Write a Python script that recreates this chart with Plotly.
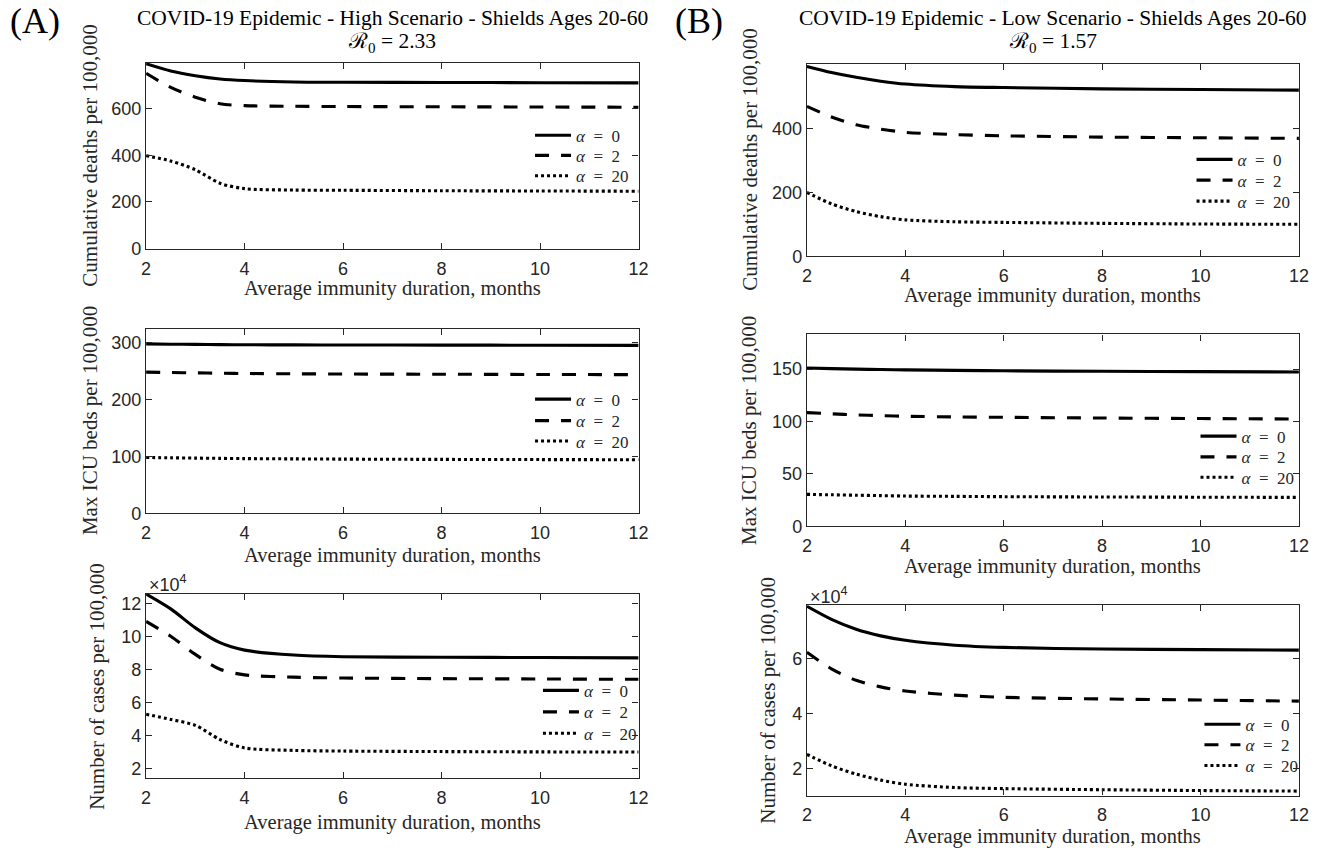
import plotly.graph_objects as go

W, H = 1337, 858

# ---------------- data ----------------
months = [2, 2.5, 3, 3.5, 4, 5, 6, 8, 10, 12]
alpha_labels = ["<i>α</i>\u2002=\u20020", "<i>α</i>\u2002=\u20022", "<i>α</i>\u2002=\u200220"]

# (A) High scenario
A_deaths_a0 = [791, 760, 740, 726, 719, 713, 712, 711, 710, 709]
A_deaths_a2 = [750, 690, 648, 620, 612, 609, 608, 607, 606, 605]
A_deaths_a20 = [398, 375, 338, 280, 257, 251, 250, 248, 247, 246]

A_icu_a0 = [297.5, 297, 296.6, 296.3, 296, 295.8, 295.6, 295.4, 295.2, 295]
A_icu_a2 = [248, 247.2, 246.6, 246, 245.5, 245, 244.6, 244.2, 243.8, 243.5]
A_icu_a20 = [98, 97.4, 96.9, 96.4, 96, 95.5, 95.1, 94.6, 94.3, 94]

A_cases_a0 = [126000, 117000, 105500, 96500, 92000, 89000, 88000, 87700, 87500, 87300]
A_cases_a2 = [109400, 100400, 89400, 80400, 77000, 75600, 75100, 74700, 74500, 74300]
A_cases_a20 = [53100, 50000, 46400, 37800, 32700, 31200, 30800, 30500, 30300, 30200]

# (B) Low scenario
B_deaths_a0 = [594, 575, 560, 548, 539, 531, 528, 524, 522, 520]
B_deaths_a2 = [469, 436, 412, 398, 388, 381, 377, 373, 371, 369]
B_deaths_a20 = [200, 164, 140, 124, 114, 108, 106, 103, 101, 100]

B_icu_a0 = [151, 150.4, 149.9, 149.5, 149.2, 148.7, 148.3, 147.8, 147.5, 147.2]
B_icu_a2 = [108.5, 107.3, 106.3, 105.6, 105, 104.4, 104, 103.3, 102.8, 102.4]
B_icu_a20 = [30.6, 30.2, 29.8, 29.4, 29, 28.7, 28.4, 28.1, 27.9, 27.7]

B_cases_a0 = [79200, 74400, 70800, 68400, 66800, 65000, 64200, 63600, 63400, 63200]
B_cases_a2 = [62400, 56400, 52200, 49800, 48300, 46800, 46000, 45400, 45000, 44600]
B_cases_a20 = [25200, 21000, 18000, 15800, 14300, 13100, 12700, 12300, 12000, 11800]

x_ticks = [2, 4, 6, 8, 10, 12]
titles = {
    "A": ["COVID-19 Epidemic - High Scenario - Shields Ages 20-60", "ℛ<sub>0</sub> = 2.33"],
    "B": ["COVID-19 Epidemic - Low Scenario - Shields Ages 20-60", "ℛ<sub>0</sub> = 1.57"],
}
ylabels = ["Cumulative deaths per 100,000", "Max ICU beds per 100,000", "Number of cases per 100,000"]
xlabel = "Average immunity duration, months"

# ---------------- layout geometry (pixels) ----------------
panels = [
    dict(series=[A_deaths_a0, A_deaths_a2, A_deaths_a20], box=(142.7, 640.8, 63.3, 251.7), yr=[0, 796],
         tv=[0, 200, 400, 600], tt=None, leg_x=537, leg_y=[137.3, 157.7, 178.3], ylab_x=86, ylab=0, xlab_y=292),
    dict(series=[A_icu_a0, A_icu_a2, A_icu_a20], box=(142.7, 640.8, 332.7, 519.3), yr=[0, 324],
         tv=[0, 100, 200, 300], tt=None, leg_x=537, leg_y=[404.3, 426, 446.7], ylab_x=86, ylab=1, xlab_y=562),
    dict(series=[A_cases_a0, A_cases_a2, A_cases_a20], box=(142.7, 640.8, 600.7, 787.3), yr=[14400, 126200],
         tv=[20000, 40000, 60000, 80000, 100000, 120000], tt=["2", "4", "6", "8", "10", "12"],
         leg_x=545, leg_y=[699, 720.7, 742.3], ylab_x=93, ylab=2, xlab_y=832),
    dict(series=[B_deaths_a0, B_deaths_a2, B_deaths_a20], box=(811, 1308.6, 65, 259.3), yr=[0, 601],
         tv=[0, 200, 400], tt=None, leg_x=1206, leg_y=[161.7, 182.7, 204], ylab_x=754, ylab=0, xlab_y=299),
    dict(series=[B_icu_a0, B_icu_a2, B_icu_a20], box=(811, 1308.6, 338.3, 532.7), yr=[0, 183],
         tv=[0, 50, 100, 150], tt=None, leg_x=1210, leg_y=[441.7, 462.7, 483.3], ylab_x=753, ylab=1, xlab_y=573),
    dict(series=[B_cases_a0, B_cases_a2, B_cases_a20], box=(811, 1308.6, 612.3, 805), yr=[10150, 79600],
         tv=[20000, 40000, 60000], tt=["2", "4", "6"], leg_x=1214, leg_y=[733.3, 754, 775],
         ylab_x=772, ylab=2, xlab_y=846),
]

dashes = ["solid", "14px,12px", "3px,3px"]
AX = "#262626"
SERIF = "Liberation Serif, Times New Roman, serif"
SANS = "Liberation Sans, Arial, sans-serif"

fig = go.Figure()
annotations = []
layout = {}


def px2x(v):
    return v / W


def px2y(v):
    return 1 - v / H


leg_n = 0
for i, p in enumerate(panels):
    k = i + 1
    xa = "x" if k == 1 else f"x{k}"
    ya = "y" if k == 1 else f"y{k}"
    x0, x1, y0, y1 = p["box"]
    for j, s in enumerate(p["series"]):
        leg_n += 1
        lg = "legend" if leg_n == 1 else f"legend{leg_n}"
        fig.add_trace(go.Scatter(
            x=months, y=s, mode="lines", name=alpha_labels[j],
            line=dict(color="black", width=3.1, dash=dashes[j], shape="spline", smoothing=0.8),
            xaxis=xa, yaxis=ya, legend=lg, hoverinfo="skip"))
        layout[lg] = dict(x=px2x(p["leg_x"] - 6), y=px2y(p["leg_y"][j]), xanchor="left", yanchor="middle",
                          bgcolor="rgba(0,0,0,0)", borderwidth=0,
                          font=dict(family=SERIF, size=17, color=AX),
                          itemwidth=36)
    axis_common = dict(showline=True, linecolor=AX, linewidth=1.3, mirror="allticks",
                       ticks="inside", ticklen=6, tickwidth=1.2, tickcolor=AX,
                       showgrid=False, zeroline=False,
                       tickfont=dict(family=SANS, size=18, color=AX))
    layout["xaxis" if k == 1 else f"xaxis{k}"] = dict(
        domain=[px2x(x0), px2x(x1)], range=[2, 12], tickvals=x_ticks, anchor=ya,
        ticklabelstandoff=3, **axis_common)
    ydict = dict(domain=[px2y(y1), px2y(y0)], range=p["yr"], tickvals=p["tv"], anchor=xa, **axis_common)
    if p["tt"] is not None:
        ydict["ticktext"] = p["tt"]
    layout["yaxis" if k == 1 else f"yaxis{k}"] = ydict
    # y label
    annotations.append(dict(text=ylabels[p["ylab"]], x=px2x(p["ylab_x"]), y=px2y((y0 + y1) / 2),
                            xref="paper", yref="paper", showarrow=False, textangle=-90,
                            xanchor="center", yanchor="middle",
                            font=dict(family=SERIF, size=21, color=AX)))
    # x label
    annotations.append(dict(text=xlabel, x=px2x((x0 + x1) / 2), y=px2y(p["xlab_y"]),
                            xref="paper", yref="paper", showarrow=False,
                            xanchor="center", yanchor="middle",
                            font=dict(family=SERIF, size=20.5, color=AX)))
    if p["tt"] is not None:
        annotations.append(dict(text="×10<sup>4</sup>", x=px2x(x0 + 1), y=px2y(y0 - 10),
                                xref="paper", yref="paper", showarrow=False,
                                xanchor="left", yanchor="middle",
                                font=dict(family=SANS, size=18, color=AX)))

# titles and panel labels
for key, cx in (("A", (142.7 + 640.8) / 2), ("B", (811 + 1308.6) / 2)):
    annotations.append(dict(text=titles[key][0], x=px2x(cx), y=px2y(18), xref="paper", yref="paper",
                            showarrow=False, xanchor="center", yanchor="middle",
                            font=dict(family=SERIF, size=21.5, color="black")))
    annotations.append(dict(text=titles[key][1], x=px2x(cx), y=px2y(43), xref="paper", yref="paper",
                            showarrow=False, xanchor="center", yanchor="middle",
                            font=dict(family=SERIF, size=21.5, color="black")))
annotations.append(dict(text="(A)", x=px2x(3), y=px2y(21), xref="paper", yref="paper", showarrow=False,
                        xanchor="left", yanchor="middle", font=dict(family=SERIF, size=36, color="black")))
annotations.append(dict(text="(B)", x=px2x(676), y=px2y(21), xref="paper", yref="paper", showarrow=False,
                        xanchor="left", yanchor="middle", font=dict(family=SERIF, size=36, color="black")))

fig.update_layout(width=W, height=H, margin=dict(l=0, r=0, t=0, b=0),
                  paper_bgcolor="white", plot_bgcolor="white",
                  showlegend=True, annotations=annotations, **layout)

fig.write_html("out.html")
